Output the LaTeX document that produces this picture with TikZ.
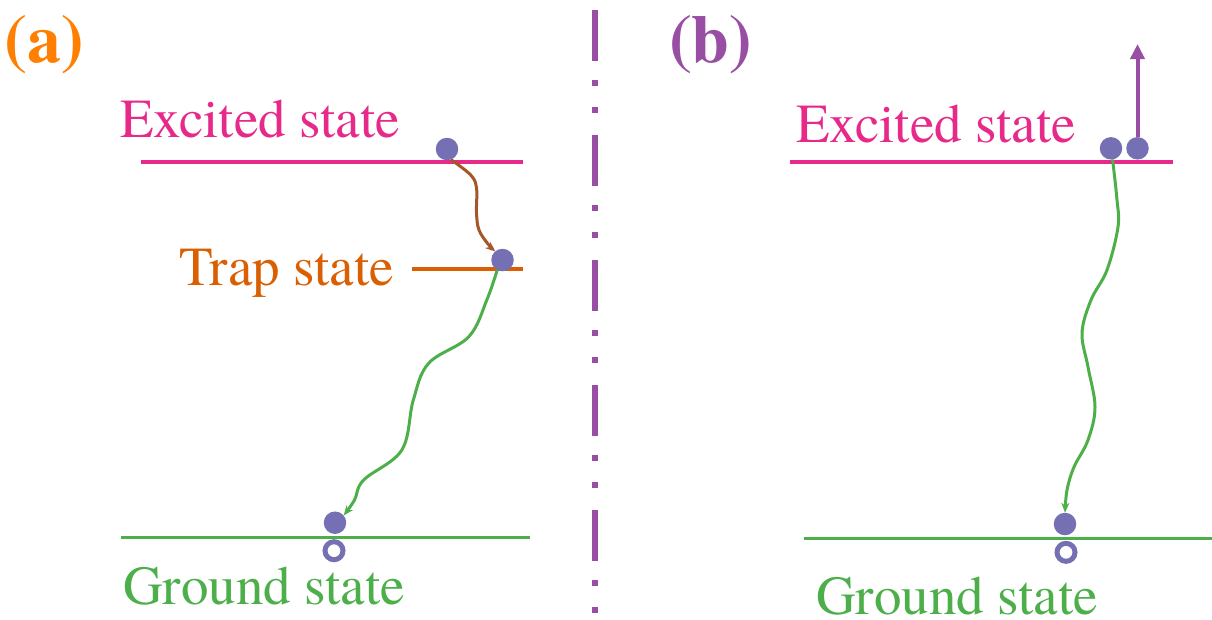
\documentclass[tikz,border=0pt]{standalone}
\usepackage{fontspec}
\setmainfont{texgyretermes}[Extension=.otf, UprightFont=*-regular,
  BoldFont=*-bold]
\usetikzlibrary{positioning, arrows.meta}

\definecolor{excol}{HTML}{E7298A}
\definecolor{trapcol}{HTML}{D95F02}
\definecolor{gndcol}{HTML}{4DAF4A}
\definecolor{sepcol}{HTML}{984EA3}
\definecolor{dotcol}{HTML}{7570B3}
\definecolor{relaxcol}{HTML}{A65628}
\definecolor{tagcol}{HTML}{FF7F00}

\begin{document}
\begin{tikzpicture}[
  x=1pt, y=-1pt,
  >={Stealth[length=10pt, width=8pt]},
  every node/.style={inner sep=0pt, outer sep=0pt}
]
\tikzset{
  lvltext/.style ={font=\fontsize{55}{60}\selectfont, anchor=base west},
  tag/.style     ={font=\fontsize{68}{72}\selectfont\bfseries,
                   anchor=base west},
  level/.style   ={line width=4pt},
  glevel/.style  ={gndcol, line width=3pt},
  dot/.style     ={circle, fill=dotcol, minimum size=22.5pt},
  hole/.style    ={circle, draw=dotcol, fill=white, line width=5pt,
                   minimum size=18pt},
  wave/.style    ={->, line width=3pt, line join=round},
  sep/.style     ={sepcol, line width=6.5pt,
                   dash pattern=on 51pt off 19pt on 6pt off 21pt on 6pt off 22pt}
}
\useasboundingbox (0,0) rectangle (1212,619);

%% ----- (a): trap-assisted relaxation -----
\node[tag, text=tagcol] (taga) at (5,62) {(a)};

\node[lvltext, text=excol]   (exlab)   at (120,137.5) {Excited state};
\node[lvltext, text=trapcol] (traplab) at (179,285.7) {Trap state};
\node[lvltext, text=gndcol]  (gndlab)  at (123,604)   {Ground state};

\draw[level, excol]   (141,162.3) -- (523,162.3);
\draw[level, trapcol] (412,269.3) -- (523,269.3);
\draw[glevel]         (121,537.7) -- (530,537.7);

\node[dot]  (exA)    at (447,149)    {};
\node[dot]  (trapA)  at (502.5,260)  {};
\node[dot]  (gndA)   at (335,522.7)  {};
\node[hole] (holeA)  at (334,550.7)  {};

\draw[wave, relaxcol] plot[smooth, tension=0.6] coordinates {
  (exA.-70) (470.7,175) (476.5,188) (476.5,213) (479,230) (488,244)
  (trapA.130)};
\draw[wave, gndcol] plot[smooth, tension=0.6] coordinates {
  (trapA.-118) (486.8,300) (468.8,336.7) (428.6,363.3) (413.3,400)
  (401.8,450) (363.6,480) (354.5,500) (gndA.40)};

%% ----- separator -----
\coordinate (septop) at (595,10);
\coordinate (sepbot) at (595,615);
\draw[sep] (septop) -- (sepbot);

%% ----- (b): direct recombination -----
\node[tag, text=sepcol] (tagb) at (669,62) {(b)};

\node[lvltext, text=excol]  (exlabb)  at (796,142.7) {Excited state};
\node[lvltext, text=gndcol] (gndlabb) at (816,614)   {Ground state};

\draw[level, excol] (790,162.3) -- (1172.6,162.3);
\draw[glevel]       (804,538.3) -- (1212,538.3);

\node[dot]  (exB1)  at (1111,148.3)  {};
\node[dot]  (exB2)  at (1137.5,148.3) {};
\node[dot]  (gndB)  at (1065,524)    {};
\node[hole] (holeB) at (1066,552.3)  {};

\coordinate (escape) at (1137.5,44);
\draw[sepcol, line width=4pt, -{Triangle[length=15pt, width=14pt]}]
  (exB2.north) -- (escape);

\draw[wave, gndcol] plot[smooth, tension=0.6] coordinates {
  (exB1.-82) (1117,200) (1118,227) (1107,270) (1091,300) (1082,333)
  (1088,367) (1095,407) (1088,440) (1074,467) (1067,490) (gndB.north)};

\end{tikzpicture}
\end{document}
